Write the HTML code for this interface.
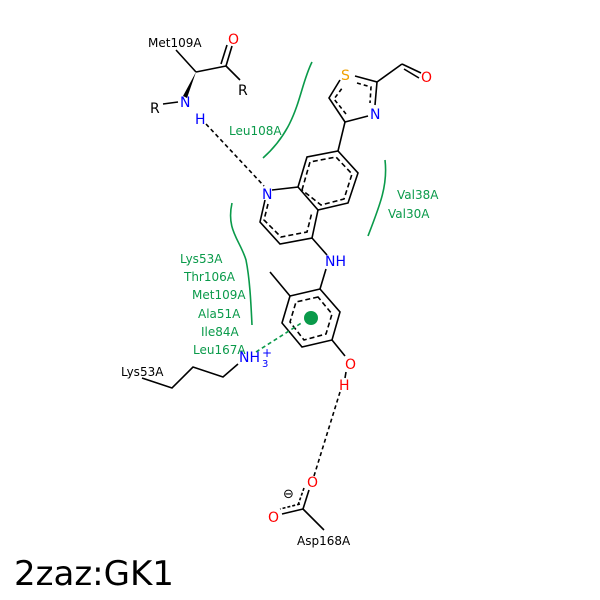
<!DOCTYPE html>
<html><head><style>body{margin:0;background:#fff}svg{display:block}</style></head><body>
<svg width="600" height="600" xmlns="http://www.w3.org/2000/svg" font-family="DejaVu Sans, Liberation Sans, sans-serif">
<rect width="600" height="600" fill="#fff"/>
<g stroke="#000" stroke-width="1.6" fill="none">
<line x1="176" y1="50" x2="196" y2="72"/>
<line x1="196" y1="72" x2="226" y2="66"/>
<line x1="226" y1="66" x2="232" y2="46"/><line x1="221" y1="64" x2="227" y2="45"/>
<line x1="226" y1="66" x2="240" y2="80"/>
<line x1="163" y1="104" x2="178" y2="102"/>
<polyline points="272,190 298,187 307,157 338,151 358,173 348,203 318,210 298,187"/>
<polyline points="318,210 312,238 280,244 260,222 265,200"/>
<polyline points="302,190 310,162 336,157 352,174 344,199 321,205 302,190" stroke-dasharray="5,3"/>
<polyline points="268,204 264,220 281,237 307,232 312,212" stroke-dasharray="5,3"/>
<line x1="338" y1="151" x2="345" y2="122"/>
<polyline points="345,122 329,98 340,80"/>
<polyline points="355,76 377,82 375,105"/>
<line x1="345" y1="122" x2="368" y2="116"/>
<polyline points="346,114 334,99 343,87" stroke-dasharray="4,3"/>
<polyline points="357,83 371,87 370,103" stroke-dasharray="4,3"/>
<line x1="377" y1="82" x2="402" y2="64"/>
<line x1="402" y1="64" x2="421" y2="73"/><line x1="404" y1="69" x2="419" y2="78"/>
<line x1="312" y1="238" x2="327" y2="255"/>
<line x1="326" y1="269" x2="320" y2="289"/>
<polygon points="320,289 290,296 282,323 302,347 332,340 340,312"/>
<polygon points="318,297 296,302 290,322 304,340 326,334 332,314" stroke-dasharray="5,3"/>
<line x1="290" y1="296" x2="270" y2="272"/>
<line x1="332" y1="340" x2="345" y2="356"/>
<line x1="346" y1="372" x2="345" y2="378"/>
<polyline points="238,364 223,377 193,367 172,388 142,378"/>
<line x1="303" y1="509" x2="324" y2="530"/>
<line x1="303" y1="509" x2="309" y2="490"/>
<line x1="303" y1="509" x2="282" y2="514"/>
<line x1="298" y1="505" x2="304" y2="488" stroke-dasharray="3,2"/>
<line x1="300" y1="504" x2="280" y2="509" stroke-dasharray="3,2"/>
<line x1="206" y1="124" x2="264" y2="186" stroke-dasharray="4,3"/>
<line x1="340" y1="392" x2="314" y2="476" stroke-dasharray="4,3"/>
</g>
<polygon points="196,72 183,96 187,98" fill="#000"/>
<g stroke="#0a9a4a" stroke-width="1.6" fill="none">
<path d="M312,62 C298,90 300,125 263,158"/>
<path d="M385,160 C388,185 380,205 368,236"/>
<path d="M232,203 C226,230 240,240 246,260 C250,280 251,305 252,325"/>
<line x1="256" y1="352" x2="303" y2="322" stroke-dasharray="4,3"/>
</g>
<circle cx="311" cy="318" r="7" fill="#0a9a4a"/>
<g font-size="12" fill="#000">
<text x="148" y="47">Met109A</text>
<text x="150" y="113" font-size="14">R</text>
<text x="238" y="95" font-size="14">R</text>
<text x="121" y="376">Lys53A</text>
<text x="297" y="545">Asp168A</text>
<text x="283" y="498" font-size="13">⊖</text>
</g>
<g font-size="14" fill="#f00">
<text x="228" y="44">O</text><text x="421" y="82">O</text>
<text x="345" y="369">O</text><text x="339" y="390">H</text>
<text x="307" y="487">O</text><text x="268" y="522">O</text>
</g>
<g font-size="14" fill="#00f">
<text x="180" y="107">N</text><text x="195" y="124">H</text>
<text x="262" y="199">N</text><text x="370" y="119">N</text>
<text x="325" y="266">NH</text>
<text x="239" y="362">NH</text><text x="262" y="367" font-size="10">3</text><text x="262" y="357" font-size="12">+</text>
</g>
<text x="341" y="80" font-size="14" fill="#f0a000">S</text>
<g font-size="12" fill="#0a9a4a">
<text x="229" y="135">Leu108A</text>
<text x="397" y="199">Val38A</text><text x="388" y="218">Val30A</text>
<text x="180" y="263">Lys53A</text><text x="184" y="281">Thr106A</text>
<text x="192" y="299">Met109A</text><text x="198" y="318">Ala51A</text>
<text x="201" y="336">Ile84A</text><text x="193" y="354">Leu167A</text>
</g>
<text x="14" y="585" font-size="34" fill="#000">2zaz:GK1</text>
</svg>
</body></html>
